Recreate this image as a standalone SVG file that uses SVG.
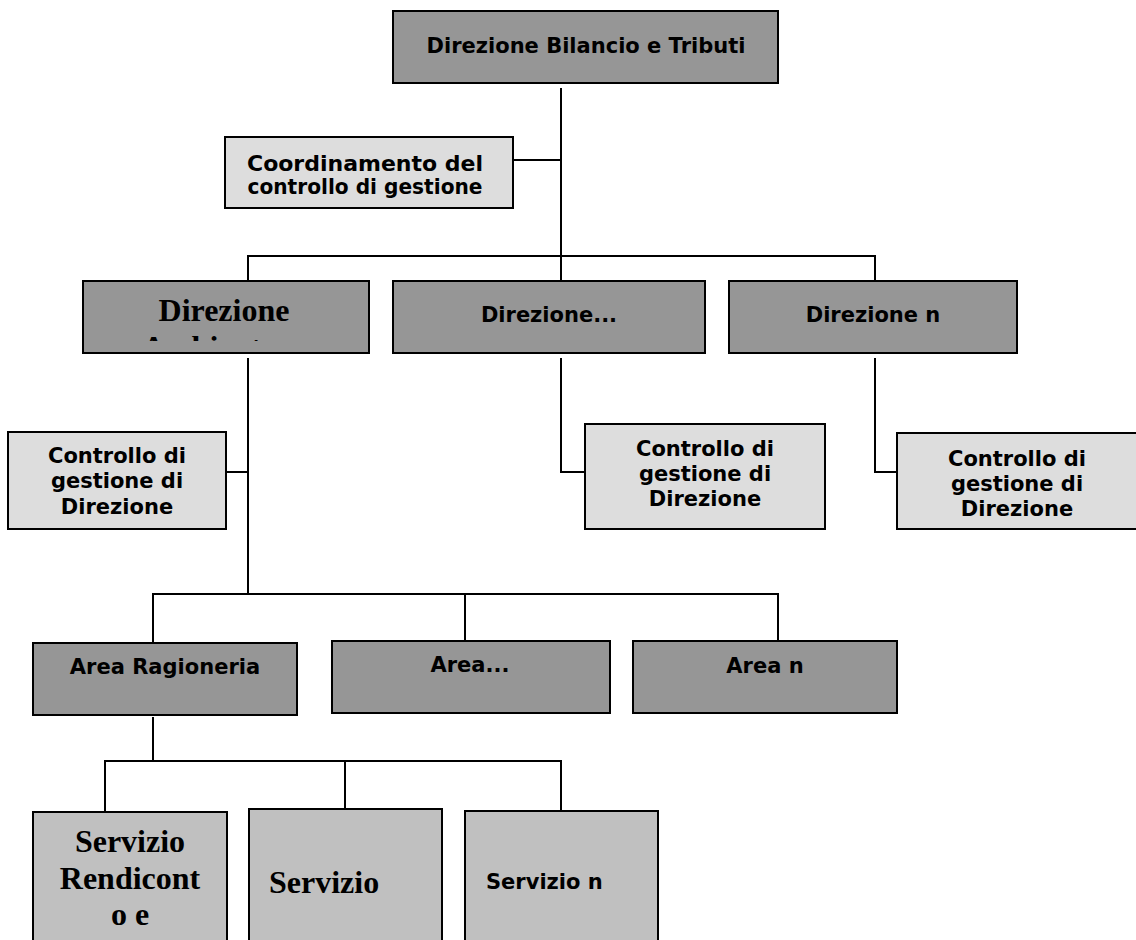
<svg xmlns="http://www.w3.org/2000/svg" width="1136" height="940" viewBox="0 0 1136 940">
  <style>
    .dark { fill: #969696; stroke: #000; stroke-width: 2; }
    .light { fill: #dddddd; stroke: #000; stroke-width: 2; }
    .mid { fill: #c0c0c0; stroke: #000; stroke-width: 2; }
    .sans { font-family: "DejaVu Sans", Verdana, sans-serif; font-weight: bold; font-size: 21px; fill: #000; }
    .serif { font-family: "Liberation Serif", "Times New Roman", serif; font-weight: bold; font-size: 32px; fill: #000; }
    .c { text-anchor: middle; }
    .conn { stroke: #000; stroke-width: 2; fill: none; }
  </style>
  <defs>
    <clipPath id="clipDir">
      <rect x="84" y="282" width="284" height="59"/>
    </clipPath>
  </defs>
  <rect width="1136" height="940" fill="#fff"/>

  <g id="connectors">
    <path class="conn" d="M561 88 V281"/>
    <path class="conn" d="M513 160 H561"/>
    <path class="conn" d="M248 281 V256 H875 V281"/>
    <path class="conn" d="M248 358 V594"/>
    <path class="conn" d="M226 472 H248"/>
    <path class="conn" d="M561 358 V472 H585"/>
    <path class="conn" d="M875 358 V472 H897"/>
    <path class="conn" d="M153 643 V594 H778 V641"/>
    <path class="conn" d="M465 594 V641"/>
    <path class="conn" d="M153 717 V761"/>
    <path class="conn" d="M105 811 V761 H561 V810"/>
    <path class="conn" d="M345 761 V808"/>
  </g>

  <g id="n-top">
    <rect class="dark" x="393" y="11" width="385" height="72"/>
    <text class="sans c" x="586" y="53">Direzione Bilancio e Tributi</text>
  </g>

  <g id="n-coord">
    <rect class="light" x="225" y="137" width="288" height="71"/>
    <text class="sans c" x="365" y="171" textLength="236" lengthAdjust="spacingAndGlyphs">Coordinamento del</text>
    <text class="sans c" x="365" y="194" textLength="235" lengthAdjust="spacingAndGlyphs">controllo di gestione</text>
  </g>

  <g id="n-dir-a">
    <rect class="dark" x="83" y="281" width="286" height="72"/>
    <text class="serif c" x="224" y="321">Direzione</text>
    <text class="serif" x="142" y="358" clip-path="url(#clipDir)">Ambiente</text>
  </g>

  <g id="n-dir-b">
    <rect class="dark" x="393" y="281" width="312" height="72"/>
    <text class="sans c" x="549" y="322">Direzione...</text>
  </g>

  <g id="n-dir-n">
    <rect class="dark" x="729" y="281" width="288" height="72"/>
    <text class="sans c" x="873" y="322">Direzione n</text>
  </g>

  <g id="n-ctrl-a">
    <rect class="light" x="8" y="432" width="218" height="97"/>
    <text class="sans c" x="117" y="463">Controllo di</text>
    <text class="sans c" x="117" y="488">gestione di</text>
    <text class="sans c" x="117" y="514">Direzione</text>
  </g>

  <g id="n-ctrl-b">
    <rect class="light" x="585" y="424" width="240" height="105"/>
    <text class="sans c" x="705" y="456">Controllo di</text>
    <text class="sans c" x="705" y="481">gestione di</text>
    <text class="sans c" x="705" y="506">Direzione</text>
  </g>

  <g id="n-ctrl-n">
    <rect class="light" x="897" y="433" width="240" height="96"/>
    <text class="sans c" x="1017" y="466">Controllo di</text>
    <text class="sans c" x="1017" y="491">gestione di</text>
    <text class="sans c" x="1017" y="516">Direzione</text>
  </g>

  <g id="n-area-rag">
    <rect class="dark" x="33" y="643" width="264" height="72"/>
    <text class="sans c" x="165" y="674">Area Ragioneria</text>
  </g>

  <g id="n-area-b">
    <rect class="dark" x="332" y="641" width="278" height="72"/>
    <text class="sans c" x="470" y="672">Area...</text>
  </g>

  <g id="n-area-n">
    <rect class="dark" x="633" y="641" width="264" height="72"/>
    <text class="sans c" x="765" y="673">Area n</text>
  </g>

  <g id="n-serv-rend">
    <rect class="mid" x="33" y="812" width="194" height="140"/>
    <text class="serif c" x="130" y="852">Servizio</text>
    <text class="serif c" x="130" y="889">Rendicont</text>
    <text class="serif c" x="130" y="925">o e</text>
  </g>

  <g id="n-serv-b">
    <rect class="mid" x="249" y="809" width="193" height="143"/>
    <text class="serif" x="269" y="893">Servizio</text>
  </g>

  <g id="n-serv-n">
    <rect class="mid" x="465" y="811" width="193" height="141"/>
    <text class="sans" x="486" y="889">Servizio n</text>
  </g>
</svg>
